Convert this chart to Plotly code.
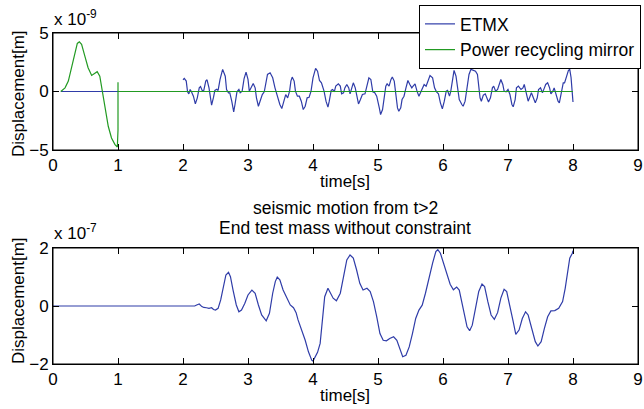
import plotly.graph_objects as go

# ---------------- data ----------------
# Top panel (units of 1e-9 m)
etmx_top_t_early = [0.12, 1.0]
etmx_top_v_early = [0.0, 0.0]

etmx_top_t = [2.00, 2.02, 2.05, 2.07, 2.09, 2.11, 2.13, 2.16, 2.19, 2.22, 2.25, 2.27, 2.30, 2.32, 2.35, 2.37,
              2.40, 2.42, 2.44, 2.47, 2.49, 2.52, 2.54, 2.57, 2.61, 2.65, 2.67, 2.70, 2.72, 2.75, 2.78, 2.80,
              2.83, 2.86, 2.88, 2.91, 2.94, 2.97, 3.00, 3.02, 3.05, 3.08, 3.11, 3.13, 3.16, 3.19, 3.22, 3.25,
              3.27, 3.30, 3.34, 3.38, 3.415, 3.45, 3.49, 3.52, 3.55, 3.58, 3.61, 3.64, 3.66, 3.68, 3.71, 3.73,
              3.76, 3.79, 3.82, 3.85, 3.88, 3.91, 3.94, 3.97, 4.00, 4.04, 4.07, 4.10, 4.13, 4.15, 4.17, 4.20,
              4.23, 4.25, 4.28, 4.30, 4.33, 4.35, 4.39, 4.42, 4.44, 4.47, 4.49, 4.52, 4.55, 4.57, 4.60, 4.62,
              4.65, 4.67, 4.70, 4.73, 4.76, 4.80, 4.83, 4.86, 4.89, 4.92, 4.95, 4.98, 5.02, 5.04, 5.07, 5.09,
              5.12, 5.14, 5.17, 5.20, 5.22, 5.25, 5.27, 5.30, 5.32, 5.35, 5.37, 5.40, 5.43, 5.46, 5.49, 5.52,
              5.54, 5.57, 5.60, 5.63, 5.66, 5.69, 5.71, 5.74, 5.77, 5.80, 5.84, 5.87, 5.90, 5.93, 5.96, 5.99,
              6.02, 6.05, 6.07, 6.10, 6.12, 6.15, 6.17, 6.20, 6.23, 6.25, 6.29, 6.31, 6.34, 6.37, 6.40, 6.43,
              6.47, 6.50, 6.53, 6.55, 6.57, 6.59, 6.62, 6.65, 6.67, 6.70, 6.73, 6.76, 6.78, 6.81, 6.84, 6.87,
              6.89, 6.92, 6.94, 6.97, 7.00, 7.03, 7.06, 7.08, 7.11, 7.13, 7.16, 7.20, 7.23, 7.25, 7.28, 7.31,
              7.34, 7.36, 7.39, 7.42, 7.45, 7.47, 7.50, 7.53, 7.56, 7.58, 7.61, 7.64, 7.66, 7.69, 7.71, 7.74,
              7.77, 7.79, 7.82, 7.85, 7.87, 7.90, 7.93, 7.95, 7.97, 7.99, 8.00]
etmx_top_v = [1.00, 1.11, 0.89, -0.03, -0.20, 0.17, -0.03, -0.40, -1.06, -0.54, 0.31, 0.43, 0.03, 0.09, 0.89, 1.00,
              0.31, -0.54, -1.17, -0.49, 0.09, 0.20, 0.09, 1.03, 1.89, 1.31, 0.17, -0.11, -0.11, -0.83, -1.74, -1.11,
              -0.03, 0.17, -0.11, 0.03, 1.11, 1.66, 1.03, 0.03, 0.31, 0.69, 0.31, -0.54, -1.26, -0.83, -0.26, -0.03,
              0.60, 1.46, 1.60, 1.17, 0.31, -0.40, -1.11, -1.46, -0.83, -0.26, -0.54, 0.03, 0.89, 1.23, 0.89, 0.03,
              -0.40, -0.40, -0.83, -1.54, -1.26, -0.54, -0.49, 0.03, 1.17, 1.97, 1.74, 0.94, 0.74, 0.46, 0.03, -0.83,
              -1.34, -0.83, 0.09, 0.17, 0.03, 0.46, 0.66, 0.46, -0.20, -0.11, 0.31, 0.60, 0.31, -0.20, 0.46, 0.74,
              0.31, -0.40, -1.06, -0.69, -0.26, -0.20, 0.50, 1.17, 1.03, -0.03, -0.11, -0.40, -1.40, -1.97, -1.54, -0.54,
              0.46, 0.66, 0.46, 1.03, 1.23, 0.89, -0.11, -1.40, -1.69, -1.40, -0.69, -0.40, 0.31, 0.94, 0.60, 0.31,
              0.46, 0.66, 0.03, -0.40, -0.03, 0.31, 0.60, 0.46, 0.94, 1.37, 1.17, 0.31, -0.03, -0.20, -0.97, -1.49,
              -0.83, 0.03, 0.09, -0.40, 0.03, 1.17, 1.80, 1.31, 0.31, -0.69, -1.11, -1.26, -0.83, 0.31, 1.46, 1.89,
              1.80, 1.74, 1.46, 0.60, -0.54, -0.83, -0.31, -0.20, -0.54, -0.89, -0.54, 0.31, 0.46, 0.03, 0.17, 0.74,
              1.03, 0.60, 0.03, -0.03, 0.17, -0.26, -1.11, -1.31, -0.69, 0.31, 0.46, 0.17, 0.31, 0.60, -0.26, -0.83,
              -0.40, -0.11, -0.54, -0.97, -0.54, 0.17, 0.31, -0.11, 0.31, 0.60, 0.74, 0.31, -0.20, 0.03, 0.31, -0.26,
              -0.83, -0.97, 0.03, 0.74, 0.74, 1.31, 1.80, 1.89, 1.20, -0.20, -0.90]

prm_top_t = [0.12, 0.185, 0.236, 0.287, 0.338, 0.374, 0.405, 0.44, 0.49, 0.54, 0.595, 0.646, 0.68, 0.72,
             0.76, 0.80, 0.85, 0.90, 0.954, 0.99, 1.0, 1.0, 1.0, 8.0]
prm_top_v = [0.0, 0.31, 0.89, 2.17, 3.46, 4.11, 4.25, 4.03, 3.03, 2.03, 1.37, 1.60, 1.69, 1.31,
             0.03, -1.26, -2.97, -3.97, -4.54, -4.74, -3.30, 0.80, 0.0, 0.0]

# Bottom panel (units of 1e-7 m)
etmx_bot_t = [0.0, 2.18, 2.21, 2.25, 2.29, 2.32, 2.36, 2.40, 2.44, 2.47, 2.50, 2.54, 2.58, 2.62, 2.66, 2.70,
              2.73, 2.77, 2.82, 2.86, 2.90, 2.95, 3.00, 3.06, 3.11, 3.16, 3.21, 3.28, 3.33, 3.38, 3.42, 3.45,
              3.49, 3.54, 3.60, 3.65, 3.70, 3.74, 3.77, 3.83, 3.88, 3.93, 3.98, 4.00, 4.03, 4.07, 4.11, 4.14,
              4.18, 4.23, 4.26, 4.31, 4.36, 4.42, 4.47, 4.52, 4.57, 4.62, 4.67, 4.72, 4.77, 4.83, 4.88, 4.93,
              4.98, 5.03, 5.08, 5.13, 5.18, 5.24, 5.29, 5.34, 5.38, 5.43, 5.48, 5.53, 5.58, 5.63, 5.68, 5.73,
              5.78, 5.84, 5.89, 5.92, 5.96, 6.01, 6.06, 6.11, 6.16, 6.21, 6.25, 6.29, 6.33, 6.37, 6.41, 6.45,
              6.50, 6.55, 6.60, 6.64, 6.69, 6.74, 6.79, 6.84, 6.89, 6.94, 6.98, 7.03, 7.08, 7.12, 7.17, 7.22,
              7.27, 7.31, 7.36, 7.42, 7.46, 7.51, 7.56, 7.61, 7.66, 7.72, 7.78, 7.84, 7.88, 7.92, 7.95, 7.99, 8.00]
etmx_bot_v = [0.0, 0.0, 0.035, 0.07, -0.02, -0.05, -0.06, -0.08, -0.06, -0.12, -0.14, -0.08, 0.21, 0.67, 1.07, 1.16,
              1.01, 0.55, 0.035, -0.20, -0.14, 0.09, 0.38, 0.55, 0.44, 0.035, -0.31, -0.51, -0.25, 0.44, 0.84, 1.00,
              0.90, 0.55, 0.27, 0.035, -0.06, -0.23, -0.48, -0.83, -1.18, -1.58, -1.87, -1.90, -1.78, -1.60, -1.29, -0.48,
              0.32, 0.61, 0.50, 0.27, 0.18, 0.44, 1.01, 1.59, 1.76, 1.65, 1.25, 0.78, 0.55, 0.61, 0.50, 0.15,
              -0.37, -0.95, -1.18, -1.20, -1.12, -1.06, -1.18, -1.52, -1.75, -1.70, -1.41, -0.95, -0.43, -0.14, 0.03, 0.44,
              0.96, 1.48, 1.88, 1.94, 1.82, 1.48, 1.13, 0.75, 0.56, 0.65, 0.55, 0.15, -0.31, -0.72, -0.85, -0.66,
              -0.08, 0.50, 0.76, 0.67, 0.15, -0.31, -0.46, -0.23, 0.27, 0.58, 0.50, 0.03, -0.54, -0.98, -0.83, -0.43,
              -0.20, -0.31, -0.77, -1.23, -1.38, -1.23, -0.77, -0.37, -0.17, -0.16, -0.08, 0.15, 0.61, 1.25, 1.65, 1.82, 1.91]

x_ticks = [0, 1, 2, 3, 4, 5, 6, 7, 8, 9]
y_ticks_top = [-5, 0, 5]
y_ticks_bot = [-2, 0, 2]

# ---------------- figure ----------------
BLUE = "#2f3ca8"
GREEN = "#229a22"
FONT = "Liberation Sans, Arial, sans-serif"
FS = 17

fig = go.Figure()
fig.add_trace(go.Scatter(x=etmx_top_t_early + [None] + etmx_top_t,
                         y=etmx_top_v_early + [None] + etmx_top_v,
                         mode="lines", name="ETMX", line=dict(color=BLUE, width=1.2),
                         connectgaps=False, xaxis="x", yaxis="y"))
fig.add_trace(go.Scatter(x=prm_top_t, y=prm_top_v, mode="lines", name="Power recycling mirror",
                         line=dict(color=GREEN, width=1.2), xaxis="x", yaxis="y"))
fig.add_trace(go.Scatter(x=etmx_bot_t, y=etmx_bot_v, mode="lines", name="ETMX",
                         line=dict(color=BLUE, width=1.2), showlegend=False, xaxis="x2", yaxis="y2"))

axis_common = dict(showline=True, linecolor="black", linewidth=1, mirror="ticks",
                   ticks="inside", ticklen=6, tickcolor="black", showgrid=False, zeroline=False,
                   automargin=False,
                   tickfont=dict(family=FONT, size=FS, color="black"))

W, H = 644, 409
L, R, T, B = 53, 6, 33, 45
ph = H - T - B

def py(p):
    return (H - B - p) / ph

def px(p):
    return (p - L) / (W - L - R)

fig.update_layout(
    width=W, height=H,
    margin=dict(l=L, r=R, t=T, b=B, pad=0, autoexpand=False),
    paper_bgcolor="white", plot_bgcolor="white",
    font=dict(family=FONT, size=FS, color="black"),
    xaxis=dict(domain=[0, 1], range=[0, 9], tickvals=x_ticks, anchor="y", **axis_common),
    yaxis=dict(domain=[py(150), 1], range=[-5, 5], tickvals=y_ticks_top, anchor="x", **axis_common),
    xaxis2=dict(domain=[0, 1], range=[0, 9], tickvals=x_ticks, anchor="y2", **axis_common),
    yaxis2=dict(domain=[0, py(248)], range=[-2, 2], tickvals=y_ticks_bot, anchor="x2", **axis_common),
    legend=dict(x=px(419), y=py(5), xanchor="left", yanchor="top",
                bgcolor="white", bordercolor="black", borderwidth=1,
                font=dict(family=FONT, size=17.5, color="black"),
                tracegroupgap=0, itemwidth=30),
    showlegend=True,
)

# axis boxes (MATLAB style frame)
for xr, yr in (("x domain", "y domain"), ("x2 domain", "y2 domain")):
    fig.add_shape(type="rect", xref=xr, yref=yr, x0=0, x1=1, y0=0, y1=1,
                  line=dict(color="black", width=1), layer="above")

annos = [
    dict(text="x 10<sup>-9</sup>", x=px(52), y=py(31), xanchor="left", yanchor="bottom", font_size=FS),
    dict(text="x 10<sup>-7</sup>", x=px(52), y=py(245), xanchor="left", yanchor="bottom", font_size=FS),
    dict(text="Displacement[m]", x=px(18), y=py(94), textangle=-90, xanchor="center", yanchor="middle", font_size=FS),
    dict(text="Displacement[m]", x=px(18), y=py(301), textangle=-90, xanchor="center", yanchor="middle", font_size=FS),
    dict(text="time[s]", x=px(345), y=py(181), xanchor="center", yanchor="middle", font_size=FS),
    dict(text="time[s]", x=px(345), y=py(395), xanchor="center", yanchor="middle", font_size=FS),
    dict(text="seismic motion from t>2", x=px(345), y=py(208), xanchor="center", yanchor="middle", font_size=17.5),
    dict(text="End test mass without constraint", x=px(345), y=py(228), xanchor="center", yanchor="middle", font_size=17.5),
]
for a in annos:
    fig.add_annotation(xref="paper", yref="paper", showarrow=False,
                       font=dict(family=FONT, size=a.pop("font_size"), color="black"), **a)

fig.write_html("out.html", config={"displayModeBar": False},
               post_script="document.body.style.margin='0';document.body.style.overflow='hidden';")
